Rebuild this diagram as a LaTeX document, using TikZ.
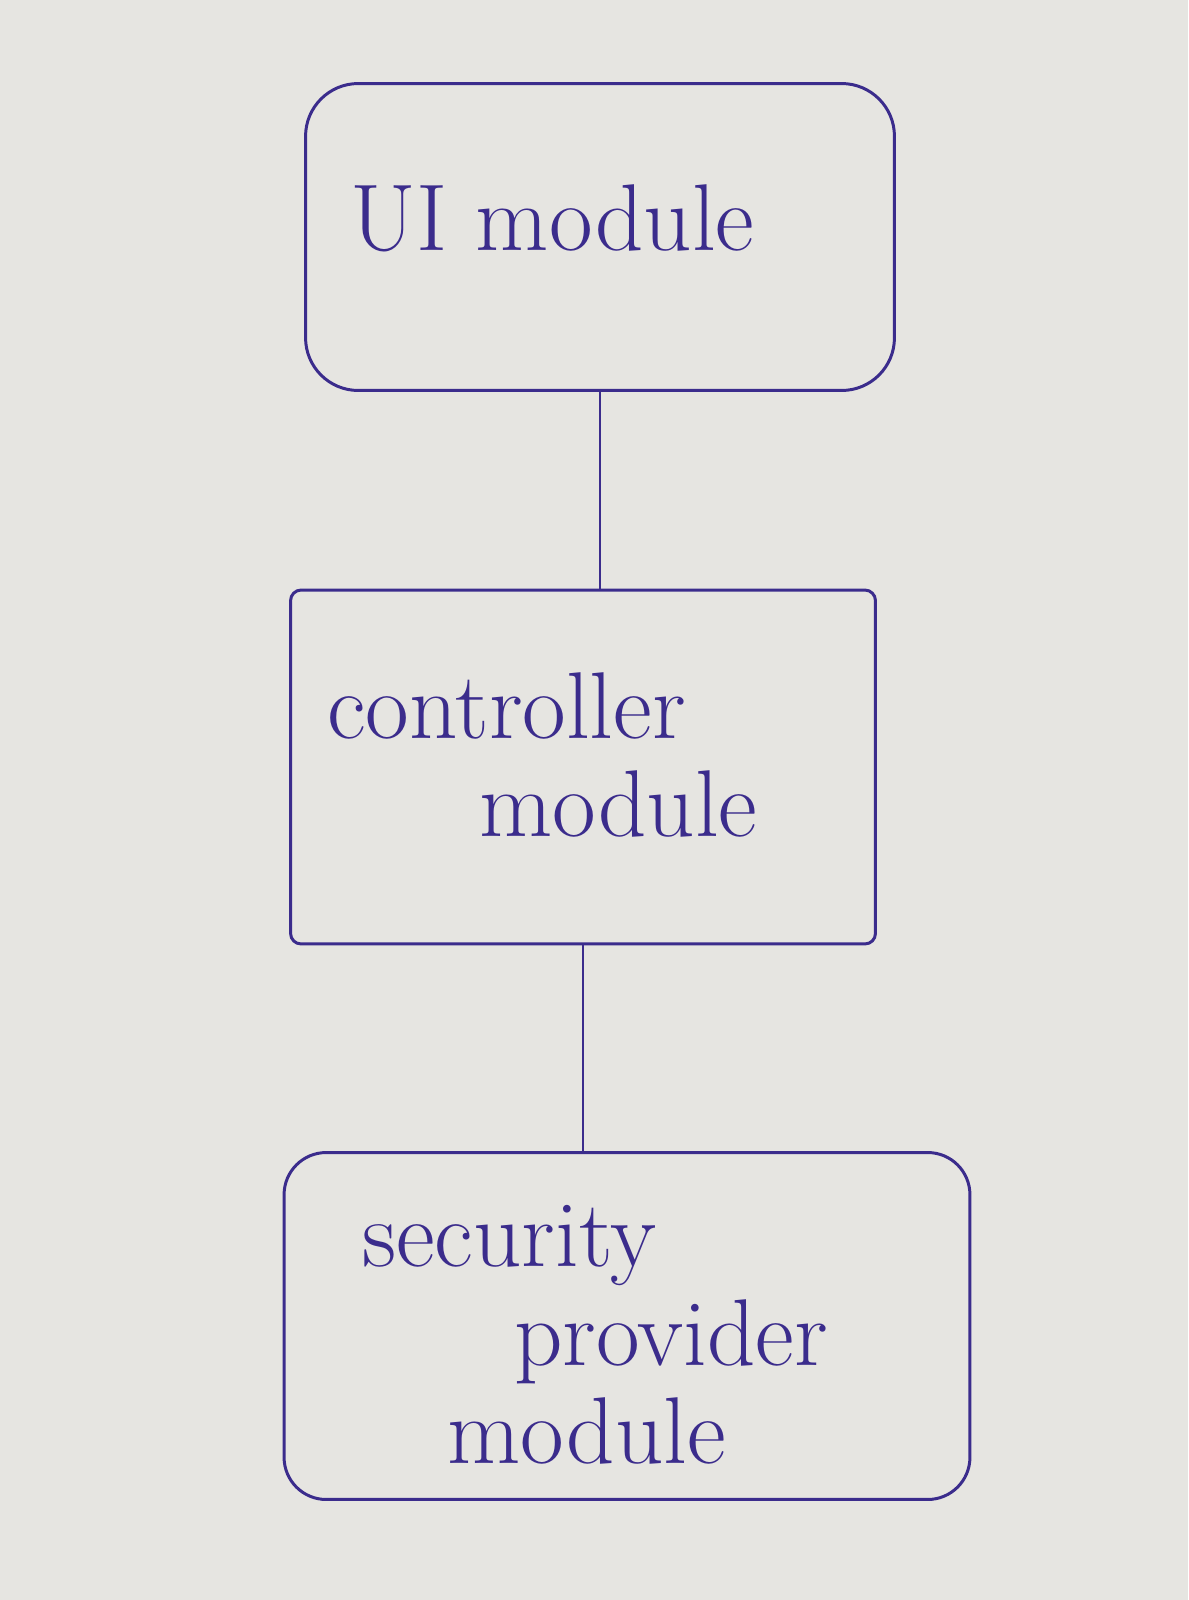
\documentclass[tikz,border=0pt]{standalone}
\usepackage{xcolor}
\usepackage{tikz}
\usetikzlibrary{positioning}
\definecolor{paper}{HTML}{E6E5E1}
\definecolor{ink}{HTML}{3B2C8C}
\tikzset{
    module/.style={rectangle, draw=ink, line width=1.7pt},
    label/.style={text=ink, align=left, anchor=west, inner sep=0pt, font=\fontsize{54}{56}\selectfont},
    link/.style={draw=ink, line width=1.7pt},
}

\begin{document}
\begin{tikzpicture}[x=0.02cm, y=-0.02cm]
    \fill[paper] (0,0) rectangle (1188,1600);
    \node[module, rounded corners=30pt, minimum width=11.78cm, minimum height=6.14cm] (ui) at (600,237) {};
    \node[label] (uitext) at (350,218) {UI module};
    \node[module, rounded corners=6pt, minimum width=11.7cm, minimum height=7.08cm] (ctrl) at (583,767) {};
    \node[label] (ctrltext) at (327,755) {controller\\\hspace*{1.6em}module};
    \node[module, rounded corners=24pt, minimum width=13.72cm, minimum height=6.94cm] (sec) at (627,1326) {};
    \node[label] (sectext) at (362,1335) {security\\\hspace*{1.6em}provider\\\hspace*{0.9em}module};

    \draw[link] (ui.south) -- (ui.south |- ctrl.north);
    \draw[link] (ctrl.south) -- (ctrl.south |- sec.north);
\end{tikzpicture}
\end{document}
